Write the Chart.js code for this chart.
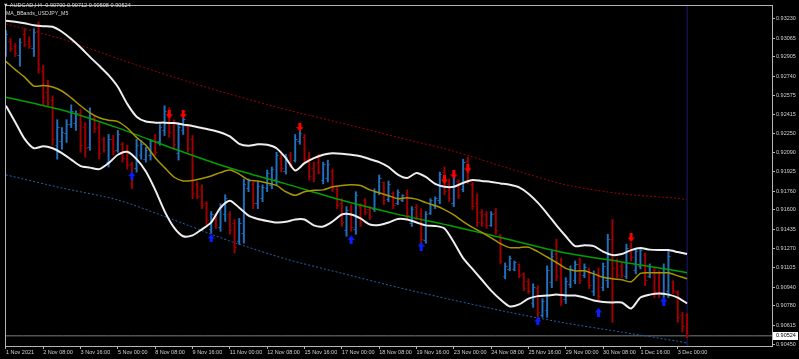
<!DOCTYPE html>
<html>
<head>
<meta charset="utf-8">
<script src="https://cdn.jsdelivr.net/npm/chart.js@4.4.1/dist/chart.umd.min.js"></script>
<style>
  html, body { margin: 0; padding: 0; background: #000; }
  #wrap { position: relative; width: 799px; height: 359px; overflow: hidden; }
  #chart { position: absolute; left: 0; top: 0; }
  .hdr { position: absolute; color: #d8d8d8; font-family: "Liberation Sans", Arial, sans-serif; white-space: pre; line-height: 1; }
</style>
</head>
<body>
<div id="wrap">
  <canvas id="chart" width="799" height="359"></canvas>
  <div class="hdr" style="left:3px; top:3px; font-size:5.6px;">▼ AUDCAD,H4  0.90700 0.90712 0.90508 0.90524</div>
  <div class="hdr" style="left:6px; top:11px; font-size:5.2px;">MA_BBands_USDJPY_M5</div>
</div>
<script>
// axis labels
const timeIdx = [0, 8, 16, 24, 32, 40, 48, 56, 64, 72, 80, 88, 96, 104, 112, 120, 128, 136, 144];
const timeLabels = ["1 Nov 2021", "2 Nov 08:00", "3 Nov 16:00", "5 Nov 00:00", "8 Nov 08:00", "9 Nov 16:00",
  "11 Nov 00:00", "12 Nov 08:00", "15 Nov 16:00", "17 Nov 00:00", "18 Nov 08:00", "19 Nov 16:00",
  "23 Nov 00:00", "24 Nov 08:00", "25 Nov 16:00", "29 Nov 00:00", "30 Nov 08:00", "1 Dec 16:00", "3 Dec 00:00"];
const priceTicks = [0.93230, 0.93065, 0.92905, 0.92740, 0.92575, 0.92415, 0.92250, 0.92090, 0.91925,
  0.91760, 0.91600, 0.91435, 0.91270, 0.91105, 0.90940, 0.90780, 0.90615, 0.90450];
const bidPrice = 0.90524;

// H4 bars, 1 Nov 00:00 .. 3 Dec 08:00
const open = [
  0.92950,0.93040,0.92990,0.92920,0.93100,0.93040,0.92980,0.93120,0.92780,0.92600,
  0.92530,0.92150,0.92180,0.92250,0.92330,0.92340,0.92420,0.92300,0.92130,0.92380,
  0.92300,0.92200,0.92000,0.92200,0.92110,0.92160,0.92100,0.91990,0.91950,0.92060,
  0.92030,0.92060,0.92200,0.92180,0.92280,0.92430,0.92340,0.92080,0.92280,0.92310,
  0.92200,0.91820,0.91770,0.91650,0.91430,0.91550,0.91450,0.91560,0.91560,0.91480,
  0.91330,0.91400,0.91780,0.91820,0.91650,0.91700,0.91780,0.91810,0.91860,0.92040,
  0.91930,0.92060,0.92020,0.92180,0.92220,0.92040,0.91950,0.92000,0.91850,0.91870,
  0.91930,0.91770,0.91650,0.91420,0.91600,0.91430,0.91630,0.91680,0.91600,0.91600,
  0.91750,0.91830,0.91690,0.91740,0.91650,0.91680,0.91740,0.91480,0.91620,0.91560,
  0.91340,0.91570,0.91630,0.91680,0.91920,0.91820,0.91650,0.91840,0.91770,0.92010,
  0.91820,0.91650,0.91580,0.91560,0.91470,0.91570,0.91380,0.91030,0.91090,0.91090,
  0.91130,0.91050,0.90990,0.90800,0.90930,0.90700,0.90740,0.90980,0.91220,0.91100,
  0.90830,0.90960,0.91000,0.91130,0.91040,0.91090,0.90900,0.91060,0.90940,0.91000,
  0.91350,0.91150,0.91120,0.91030,0.91290,0.91080,0.91120,0.91210,0.91030,0.91080,
  0.91060,0.90880,0.90900,0.90980,0.90890,0.90700,0.90700];
const high = [
  0.93129,0.93061,0.93019,0.93061,0.93146,0.93078,0.93146,0.93205,0.92834,0.92707,
  0.92572,0.92369,0.92302,0.92369,0.92496,0.92445,0.92454,0.92344,0.92471,0.92403,
  0.92344,0.92218,0.92243,0.92234,0.92277,0.92175,0.92150,0.92007,0.92201,0.92192,
  0.92133,0.92201,0.92243,0.92327,0.92488,0.92471,0.92369,0.92344,0.92386,0.92327,
  0.92234,0.91838,0.91813,0.91669,0.91585,0.91568,0.91652,0.91728,0.91585,0.91517,
  0.91526,0.91863,0.91863,0.91838,0.91838,0.91813,0.91939,0.91965,0.92091,0.92074,
  0.92074,0.92091,0.92243,0.92277,0.92243,0.92091,0.92007,0.92074,0.92007,0.92024,
  0.91948,0.91796,0.91695,0.91627,0.91644,0.91754,0.91652,0.91695,0.91627,0.91779,
  0.91897,0.91838,0.91846,0.91754,0.91770,0.91728,0.91770,0.91627,0.91644,0.91610,
  0.91585,0.91695,0.91711,0.91922,0.91965,0.91863,0.91922,0.91855,0.92032,0.92049,
  0.91838,0.91737,0.91602,0.91585,0.91585,0.91610,0.91391,0.91146,0.91205,0.91163,
  0.91138,0.91062,0.91011,0.90969,0.90952,0.90842,0.91121,0.91247,0.91349,0.91188,
  0.91020,0.91121,0.91163,0.91188,0.91138,0.91104,0.91079,0.91104,0.91146,0.91391,
  0.91517,0.91180,0.91146,0.91306,0.91315,0.91264,0.91273,0.91230,0.91138,0.91104,
  0.91079,0.91138,0.91247,0.90994,0.90910,0.90724,0.90712];
const low = [
  0.92909,0.92952,0.92909,0.92825,0.92994,0.92977,0.92909,0.92766,0.92496,0.92488,
  0.92150,0.92032,0.92116,0.92175,0.92302,0.92277,0.92091,0.92049,0.92108,0.92260,
  0.92032,0.92091,0.91965,0.92066,0.92091,0.92007,0.91948,0.91779,0.91922,0.92032,
  0.92007,0.92024,0.92066,0.92150,0.92234,0.92218,0.92116,0.92024,0.92243,0.92091,
  0.91695,0.91695,0.91610,0.91475,0.91399,0.91441,0.91416,0.91500,0.91391,0.91230,
  0.91306,0.91315,0.91754,0.91610,0.91610,0.91669,0.91754,0.91779,0.91813,0.91922,
  0.91905,0.91965,0.92007,0.92159,0.92007,0.91855,0.91838,0.91905,0.91821,0.91838,
  0.91754,0.91610,0.91458,0.91374,0.91416,0.91391,0.91458,0.91560,0.91517,0.91585,
  0.91728,0.91644,0.91669,0.91610,0.91644,0.91669,0.91526,0.91458,0.91517,0.91306,
  0.91315,0.91560,0.91610,0.91652,0.91728,0.91669,0.91627,0.91695,0.91754,0.91821,
  0.91602,0.91458,0.91458,0.91441,0.91458,0.91391,0.91138,0.91011,0.91079,0.91079,
  0.91020,0.90910,0.90885,0.90767,0.90682,0.90682,0.90682,0.90935,0.90994,0.90783,
  0.90800,0.90935,0.90969,0.90969,0.91020,0.90927,0.90868,0.90826,0.90910,0.90935,
  0.90640,0.91020,0.91020,0.91011,0.91163,0.91053,0.91095,0.90952,0.91020,0.90851,
  0.90851,0.90842,0.90851,0.90885,0.90640,0.90556,0.90508];
const close = [
  0.93100,0.92980,0.92930,0.93030,0.93010,0.92990,0.93110,0.92800,0.92560,0.92520,
  0.92200,0.92300,0.92260,0.92330,0.92440,0.92420,0.92150,0.92120,0.92420,0.92290,
  0.92080,0.92110,0.92200,0.92100,0.92240,0.92040,0.91980,0.91850,0.92150,0.92160,
  0.92110,0.92180,0.92090,0.92300,0.92440,0.92260,0.92160,0.92300,0.92370,0.92120,
  0.91740,0.91710,0.91640,0.91510,0.91560,0.91470,0.91620,0.91700,0.91420,0.91280,
  0.91480,0.91820,0.91840,0.91650,0.91800,0.91790,0.91910,0.91940,0.92060,0.91950,
  0.92050,0.91990,0.92200,0.92250,0.92030,0.91880,0.91870,0.91920,0.91990,0.91990,
  0.91780,0.91640,0.91490,0.91590,0.91450,0.91720,0.91490,0.91580,0.91540,0.91750,
  0.91870,0.91680,0.91820,0.91640,0.91750,0.91720,0.91550,0.91600,0.91540,0.91350,
  0.91560,0.91680,0.91700,0.91900,0.91760,0.91700,0.91890,0.91720,0.92000,0.91850,
  0.91630,0.91490,0.91480,0.91470,0.91560,0.91420,0.91160,0.91120,0.91180,0.91150,
  0.91040,0.90930,0.90900,0.90940,0.90720,0.90820,0.91080,0.91200,0.91030,0.90820,
  0.90990,0.91090,0.91130,0.91000,0.91110,0.90950,0.91050,0.90860,0.91120,0.91350,
  0.91100,0.91040,0.91040,0.91270,0.91190,0.91240,0.91250,0.91000,0.91120,0.90900,
  0.90890,0.91100,0.91200,0.90900,0.90680,0.90600,0.90524];

// bollinger bands + middle line, read every 2nd bar
const bandIdx = [0,2,4,6,8,10,12,14,16,18,20,22,24,26,28,30,32,34,36,38,40,42,44,46,48,50,52,54,56,58,
  60,62,64,66,68,70,72,74,76,78,80,82,84,86,88,90,92,94,96,98,100,102,104,106,108,110,112,114,116,118,
  120,122,124,126,128,130,132,134,136,138,140,142,144,146];
const bandUpper = [
  0.93213,0.93205,0.93192,0.93175,0.93167,0.93163,0.93120,0.93057,0.92985,0.92905,
  0.92829,0.92749,0.92648,0.92504,0.92395,0.92353,0.92344,0.92344,0.92340,0.92327,
  0.92315,0.92298,0.92281,0.92260,0.92226,0.92163,0.92146,0.92159,0.92155,0.92125,
  0.92041,0.91935,0.91998,0.92041,0.92070,0.92083,0.92079,0.92070,0.92057,0.92032,
  0.92007,0.91965,0.91901,0.91872,0.91914,0.91880,0.91821,0.91796,0.91796,0.91830,
  0.91855,0.91846,0.91838,0.91825,0.91813,0.91791,0.91737,0.91661,0.91568,0.91467,
  0.91374,0.91290,0.91298,0.91290,0.91243,0.91214,0.91222,0.91256,0.91273,0.91260,
  0.91256,0.91256,0.91239,0.91222];
const bandLower = [
  0.92488,0.92348,0.92205,0.92125,0.92142,0.92125,0.92083,0.92028,0.91973,0.91960,
  0.91947,0.91998,0.92070,0.92095,0.92032,0.91927,0.91770,0.91589,0.91450,0.91374,
  0.91382,0.91433,0.91492,0.91618,0.91678,0.91618,0.91551,0.91522,0.91505,0.91492,
  0.91497,0.91517,0.91517,0.91467,0.91458,0.91500,0.91560,0.91560,0.91526,0.91475,
  0.91471,0.91492,0.91522,0.91517,0.91492,0.91467,0.91462,0.91441,0.91323,0.91188,
  0.91095,0.91003,0.90910,0.90834,0.90775,0.90792,0.90842,0.90863,0.90868,0.90876,
  0.90868,0.90868,0.90851,0.90826,0.90813,0.90809,0.90809,0.90758,0.90851,0.90876,
  0.90885,0.90876,0.90851,0.90800];
const bandMid = [
  0.92867,0.92796,0.92732,0.92656,0.92661,0.92648,0.92614,0.92555,0.92488,0.92428,
  0.92386,0.92365,0.92353,0.92298,0.92218,0.92150,0.92045,0.91960,0.91880,0.91846,
  0.91851,0.91867,0.91889,0.91918,0.91939,0.91905,0.91855,0.91846,0.91829,0.91808,
  0.91754,0.91724,0.91754,0.91766,0.91770,0.91796,0.91808,0.91813,0.91808,0.91770,
  0.91745,0.91720,0.91695,0.91703,0.91691,0.91661,0.91636,0.91602,0.91556,0.91500,
  0.91450,0.91408,0.91361,0.91311,0.91277,0.91277,0.91281,0.91243,0.91197,0.91150,
  0.91100,0.91079,0.91079,0.91053,0.91024,0.91011,0.91003,0.90986,0.91057,0.91062,
  0.91062,0.91062,0.91036,0.91011];

// slow MA and the dotted channel, read every 12th bar
const slowIdx = [0, 12, 24, 36, 48, 60, 72, 84, 96, 108, 120, 132, 144, 146];
const slowMa = [0.92561,0.92452,0.92299,0.92121,0.91956,0.91821,0.91681,0.91561,0.91458,0.91344,0.91231,0.91155,0.91077,0.91062];
const chanUpper = [0.93187,0.93058,0.92890,0.92731,0.92587,0.92456,0.92339,0.92219,0.92100,0.91951,0.91813,0.91736,0.91698,0.91686];
const chanLower = [0.91898,0.91786,0.91684,0.91513,0.91333,0.91180,0.91058,0.90938,0.90828,0.90724,0.90633,0.90556,0.90478,0.90463];

// signal arrows
const sellIdx = [35, 38, 63, 94, 96, 99, 134];
const sellPrice = [0.92412, 0.92412, 0.92302, 0.91855, 0.91897, 0.91950, 0.91360];
const buyIdx = [27, 44, 74, 89, 114, 127, 141];
const buyPrice = [0.91892, 0.91360, 0.91346, 0.91290, 0.90651, 0.90727, 0.90820];

const yMin = 0.904373, yMax = 0.933481;
const xMin = -0.2, xMax = 164.2;
const lastBar = 146;

const FONT = '"Liberation Sans", Arial, sans-serif';
const upColor = "#2270bd";
const downColor = "#a00000";

function tickImg(color, isOpen) {
  const c = document.createElement("canvas");
  c.width = 5; c.height = 1;
  const g = c.getContext("2d");
  g.fillStyle = color;
  g.fillRect(isOpen ? 0.5 : 3, 0, 1.5, 1);
  return c;
}

function arrowImg(color, down) {
  const c = document.createElement("canvas");
  c.width = 7; c.height = 9;
  const g = c.getContext("2d");
  g.fillStyle = color;
  g.beginPath();
  if (down) {
    g.rect(2, 0, 3, 4.5);
    g.moveTo(0, 4); g.lineTo(7, 4); g.lineTo(3.5, 8.8);
  } else {
    g.rect(2, 4.5, 3, 4.5);
    g.moveTo(3.5, 0.2); g.lineTo(7, 5); g.lineTo(0, 5);
  }
  g.closePath();
  g.fill();
  return c;
}

const bullBars = [], bearBars = [], bullOpen = [], bullClose = [], bearOpen = [], bearClose = [];
for (let i = 0; i < high.length; i++) {
  const up = close[i] >= open[i];
  (up ? bullBars : bearBars).push({ x: i, y: [low[i], high[i]] });
  (up ? bullOpen : bearOpen).push({ x: i, y: open[i] });
  (up ? bullClose : bearClose).push({ x: i, y: close[i] });
}

const pts = (idx, vals) => idx.map((v, k) => ({ x: v, y: vals[k] }));

function barSet(data, color) {
  return { type: "bar", data: data, backgroundColor: color, borderWidth: 0, barThickness: 1.3, grouped: false, order: 10 };
}
function tickSet(data, img) {
  return { type: "line", data: data, showLine: false, pointStyle: img, pointRadius: 2, order: 9 };
}
function lineSet(data, color, width, dash, order) {
  return { type: "line", data: data, borderColor: color, borderWidth: width, borderDash: dash || [],
    pointRadius: 0, tension: 0.25, fill: false, order: order };
}

const framePlugin = {
  id: "frame",
  afterDraw(chart) {
    const { ctx, chartArea: a, scales: { y } } = chart;
    ctx.save();
    ctx.strokeStyle = "#b4b4b4";
    ctx.lineWidth = 1;
    ctx.strokeRect(a.left + 0.5, a.top + 0.5, a.right - a.left, a.bottom - a.top);
    const py = y.getPixelForValue(bidPrice);
    ctx.fillStyle = "#ffffff";
    ctx.fillRect(a.right + 1, Math.round(py) - 4, 25, 8);
    ctx.fillStyle = "#000000";
    ctx.font = "5.5px " + FONT;
    ctx.textBaseline = "middle";
    ctx.fillText(bidPrice.toFixed(5), a.right + 4, py);
    ctx.restore();
  }
};

const axisFont = { family: FONT, size: 5.5 };

new Chart(document.getElementById("chart"), {
  type: "bar",
  data: {
    datasets: [
      lineSet([{ x: xMin, y: bidPrice }, { x: xMax, y: bidPrice }], "#7c7c7c", 1, null, 30),
      lineSet([{ x: lastBar, y: yMin }, { x: lastBar, y: yMax }], "#1c1c78", 1, null, 30),
      lineSet(pts(slowIdx, chanUpper), "#a00000", 1, [2, 2], 20),
      lineSet(pts(slowIdx, chanLower), "#2464a8", 1, [2, 2], 20),
      barSet(bullBars, upColor),
      barSet(bearBars, downColor),
      tickSet(bullOpen, tickImg(upColor, true)),
      tickSet(bullClose, tickImg(upColor, false)),
      tickSet(bearOpen, tickImg(downColor, true)),
      tickSet(bearClose, tickImg(downColor, false)),
      lineSet(pts(slowIdx, slowMa), "#00a000", 1.5, null, 5),
      lineSet(pts(bandIdx, bandMid), "#a89600", 1.5, null, 4),
      lineSet(pts(bandIdx, bandUpper), "#eeeeee", 2, null, 3),
      lineSet(pts(bandIdx, bandLower), "#eeeeee", 2, null, 3),
      { type: "line", data: pts(sellIdx, sellPrice), showLine: false, pointStyle: arrowImg("#ff0000", true), pointRadius: 4, order: 0 },
      { type: "line", data: pts(buyIdx, buyPrice), showLine: false, pointStyle: arrowImg("#0a1eff", false), pointRadius: 4, order: 0 }
    ]
  },
  options: {
    responsive: false,
    devicePixelRatio: 1,
    animation: false,
    events: [],
    layout: { padding: { left: 1, top: 1, right: 0, bottom: 0 } },
    plugins: { legend: { display: false }, tooltip: { enabled: false } },
    scales: {
      x: {
        type: "linear", min: xMin, max: xMax, offset: false,
        grid: { drawOnChartArea: false, tickLength: 3, color: "#b4b4b4", offset: false },
        border: { display: false },
        ticks: { autoSkip: false, maxRotation: 0, align: "start", padding: 0, color: "#d0d0d0", font: axisFont,
          callback: (v, i) => timeLabels[i] },
        afterBuildTicks: s => { s.ticks = timeIdx.map(v => ({ value: v })); },
        afterFit: s => { s.height = 13; s.paddingLeft = 0; s.paddingRight = 0; }
      },
      y: {
        position: "right", min: yMin, max: yMax,
        grid: { drawOnChartArea: false, tickLength: 3, color: "#b4b4b4" },
        border: { display: false },
        ticks: { autoSkip: false, padding: 1, color: "#d0d0d0", font: axisFont,
          callback: (v, i) => priceTicks[i].toFixed(5) },
        afterBuildTicks: s => { s.ticks = priceTicks.map(v => ({ value: v })); },
        afterFit: s => { s.width = 27; s.paddingTop = 0; s.paddingBottom = 0; }
      }
    }
  },
  plugins: [framePlugin]
});
</script>
</body>
</html>
